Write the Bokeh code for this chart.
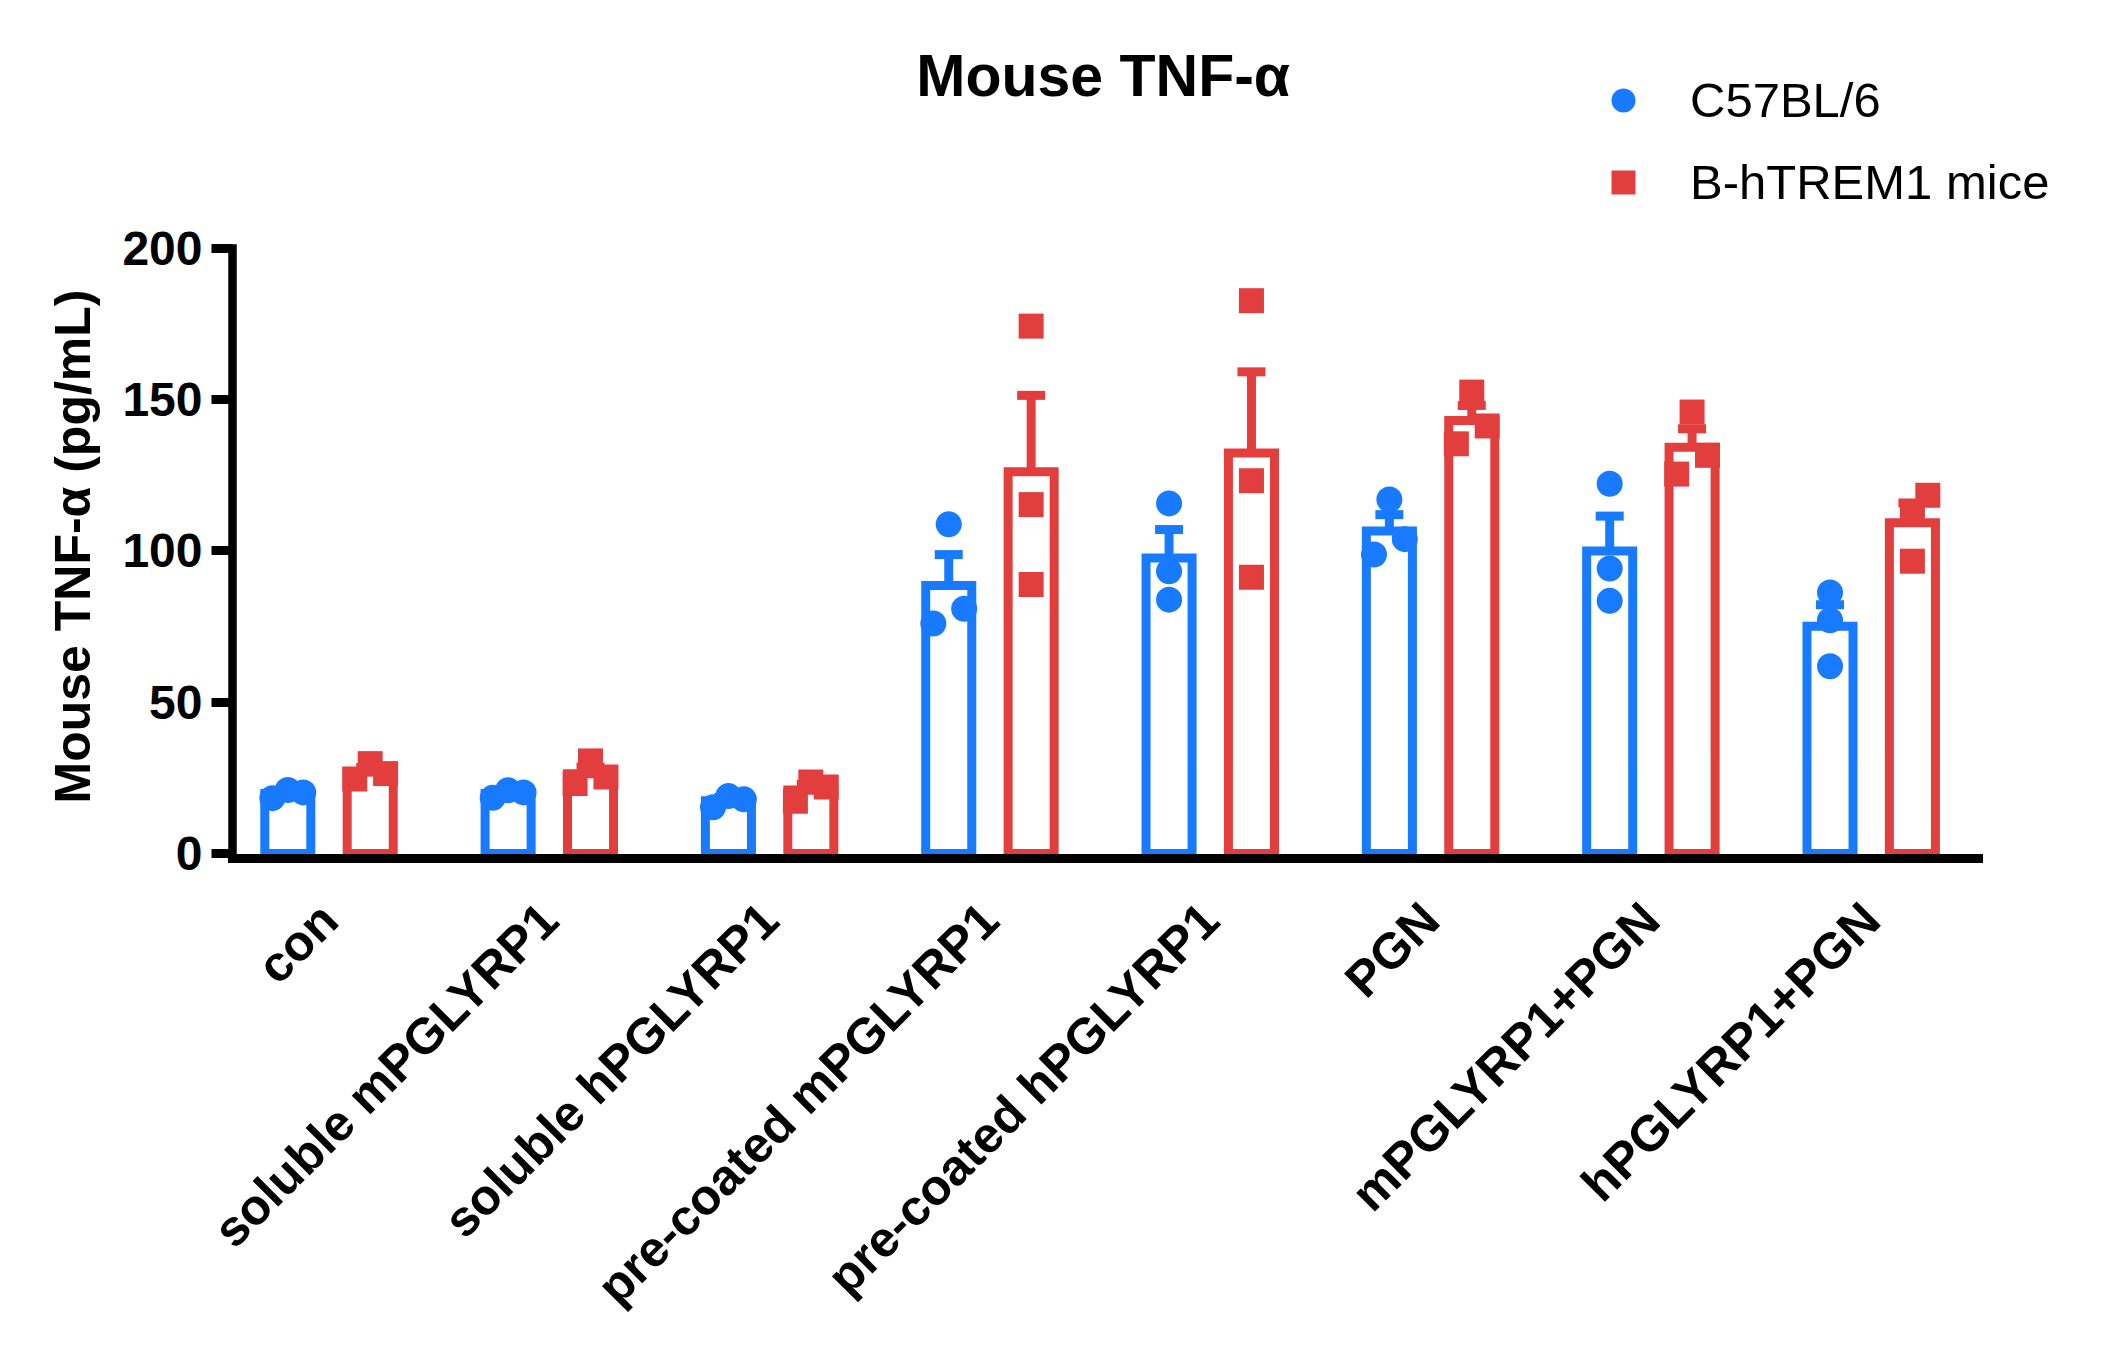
import numpy as np
from math import pi
from bokeh.plotting import figure
from bokeh.models import (ColumnDataSource, FixedTicker, Legend, LegendItem,
                          Whisker, TeeHead, Range1d, Label, Title)
from bokeh.embed import file_html
from bokeh.resources import INLINE

# ---------------- data ----------------
categories = ["con", "soluble mPGLYRP1", "soluble hPGLYRP1",
              "pre-coated mPGLYRP1", "pre-coated hPGLYRP1", "PGN",
              "mPGLYRP1+PGN", "hPGLYRP1+PGN"]
series_names = ["C57BL/6", "B-hTREM1 mice"]

c57bl6_points = [
    [18.3, 21.0, 20.2],
    [18.4, 20.9, 20.2],
    [15.3, 19.0, 17.9],
    [108.8, 80.9, 76.0],
    [115.7, 93.3, 83.9],
    [117.0, 103.9, 98.8],
    [122.2, 94.2, 83.5],
    [86.3, 77.1, 61.9],
]
htrem1_points = [
    [29.7, 26.4, 24.6],
    [30.6, 25.3, 23.1],
    [23.6, 22.0, 17.3],
    [174.3, 115.3, 88.9],
    [182.7, 123.2, 91.3],
    [152.5, 141.3, 135.4],
    [145.9, 131.6, 125.4],
    [118.4, 112.9, 96.6],
]
# horizontal scatter of the replicate dots (fraction of a category)
c57bl6_jitter = [
    [-0.07, 0.0, 0.07],
    [-0.07, 0.0, 0.07],
    [-0.07, 0.0, 0.07],
    [0.0, 0.07, -0.07],
    [0.0, 0.0, 0.0],
    [0.0, 0.07, -0.07],
    [0.0, 0.0, 0.0],
    [0.0, 0.0, 0.0],
]
htrem1_jitter = [
    [0.0, 0.07, -0.07],
    [0.0, 0.07, -0.07],
    [0.0, 0.07, -0.07],
    [0.0, 0.0, 0.0],
    [0.0, 0.0, 0.0],
    [0.0, 0.07, -0.07],
    [0.0, 0.07, -0.07],
    [0.07, 0.0, 0.0],
]
y_ticks = [0, 50, 100, 150, 200]
y_axis_bounds = (0, 200)
title_text = "Mouse TNF-α"
y_label_text = "Mouse TNF-α (pg/mL)"

# ---------------- style / layout ----------------
BLUE = "#187AFF"
RED = "#E23E3E"
FONT = "Liberation Sans"
OFFSET = 0.187
BAR_W = 0.209
LW = 9

X_START, X_AXIS_END, X_END = -0.438, 7.488, 7.950
Y_START, Y_END = -1.652, 272.0

p = figure(width=2101, height=1351, output_backend="svg", toolbar_location=None,
           x_range=Range1d(X_START, X_END), y_range=Range1d(Y_START, Y_END),
           min_border_left=232, min_border_right=21,
           min_border_top=30, min_border_bottom=493)
p.xgrid.visible = False
p.ygrid.visible = False
p.outline_line_color = None
p.background_fill_color = "white"
p.border_fill_color = "white"
p.title = None

legend_items = []
for pts, jit, color, marker, msize, shift, name in [
        (c57bl6_points, c57bl6_jitter, BLUE, "circle", 26, -OFFSET, series_names[0]),
        (htrem1_points, htrem1_jitter, RED, "square", 25, OFFSET, series_names[1])]:
    arr = np.array(pts, dtype=float)
    means = arr.mean(axis=1)
    sems = arr.std(axis=1, ddof=1) / np.sqrt(arr.shape[1])
    xs = [i + shift for i in range(len(categories))]
    src = ColumnDataSource(dict(x=xs, top=means, upper=means + sems))
    p.vbar(x="x", top="top", bottom=0, width=BAR_W, source=src,
           fill_color="white", line_color=color, line_width=LW, line_join="miter")
    p.add_layout(Whisker(source=src, base="x", lower="top", upper="upper",
                         dimension="height", line_color=color, line_width=LW,
                         lower_head=None,
                         upper_head=TeeHead(size=28, line_color=color, line_width=LW)))
    px, py = [], []
    for i, (vals, js) in enumerate(zip(pts, jit)):
        for v, j in zip(vals, js):
            px.append(i + shift + j)
            py.append(v)
    r = p.scatter(x=px, y=py, marker=marker, size=msize,
                  fill_color=color, line_color=None)
    legend_items.append(LegendItem(label=name, renderers=[r]))

legend = Legend(items=legend_items, location=(1361, 646), orientation="vertical",
                glyph_width=60, glyph_height=60, label_height=60, label_standoff=37,
                spacing=22, padding=0, margin=0, border_line_color=None,
                background_fill_alpha=0, label_text_font=FONT,
                label_text_font_size="49px", label_text_color="black")
p.add_layout(legend, "center")

# chart title
p.add_layout(Label(x=3.514, y=256.8, text=title_text, text_align="center",
                   text_baseline="middle", text_font=FONT,
                   text_font_size="59px", text_font_style="bold",
                   text_color="black"))

# y axis
ya = p.yaxis[0]
ya.ticker = FixedTicker(ticks=y_ticks)
ya.bounds = y_axis_bounds
ya.axis_line_width = 8.5
ya.axis_line_cap = "square"
ya.major_tick_line_width = LW
ya.major_tick_out = 21
ya.major_tick_in = 0
ya.minor_tick_out = 0
ya.minor_tick_in = 0
ya.major_label_standoff = 9
ya.major_label_text_font = FONT
ya.major_label_text_font_size = "48px"
ya.major_label_text_font_style = "bold"
ya.major_label_text_color = "black"

# y axis title (placed along the 0-200 part of the axis)
p.add_layout(Title(text=y_label_text, align="left", offset=55, standoff=37,
                   text_font=FONT, text_font_size="50px", text_font_style="bold",
                   text_color="black"), "left")

# x axis
xa = p.xaxis[0]
xa.ticker = FixedTicker(ticks=list(range(len(categories))))
xa.bounds = (X_START, X_AXIS_END)
xa.major_label_overrides = {i: c for i, c in enumerate(categories)}
xa.major_label_orientation = pi / 4
xa.axis_line_width = LW
xa.axis_line_cap = "square"
xa.major_tick_out = 0
xa.major_tick_in = 0
xa.minor_tick_out = 0
xa.minor_tick_in = 0
xa.major_label_standoff = 53
xa.major_label_text_font = FONT
xa.major_label_text_font_size = "50px"
xa.major_label_text_font_style = "bold"
xa.major_label_text_color = "black"

open("out.html", "w").write(file_html(p, INLINE))
